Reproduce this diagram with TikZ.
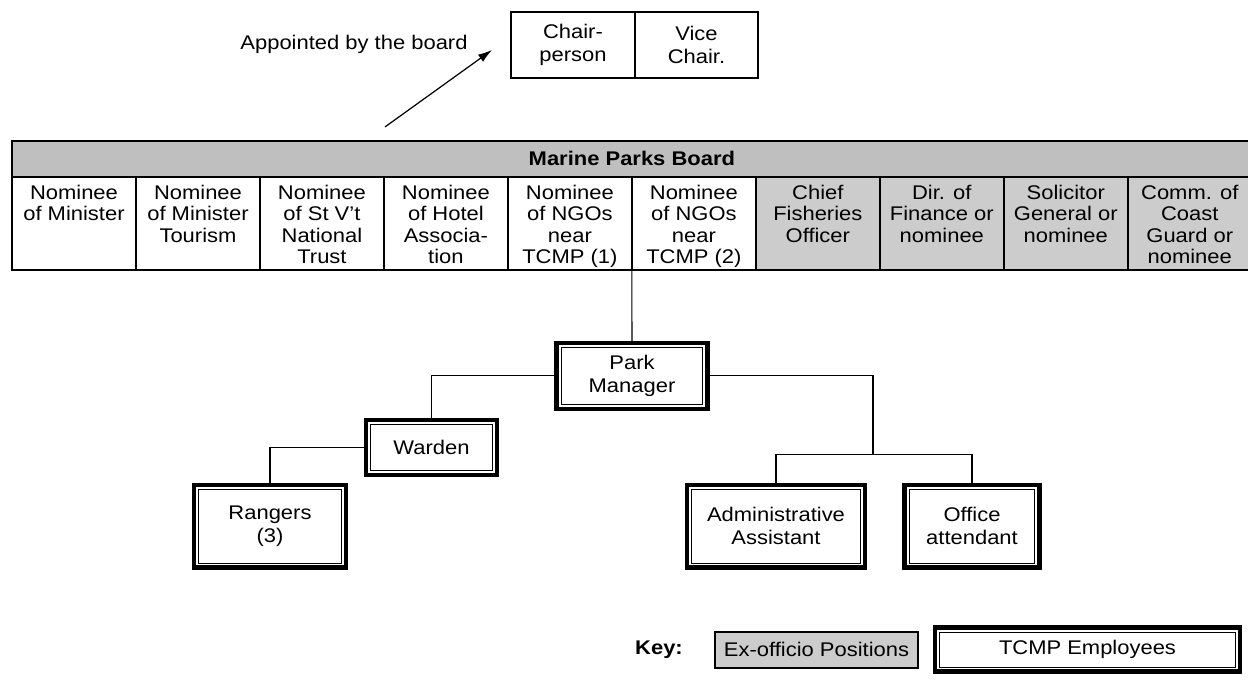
\documentclass[tikz,border=0pt]{standalone}
\usepackage{fontspec}
\setmainfont{Liberation Sans}
\usetikzlibrary{positioning,arrows.meta}
\newcommand{\orgfont}{\fontsize{12.5}{13.6}\selectfont}
\newcommand{\boxfont}{\fontsize{12.5}{14.6}\selectfont}

\begin{document}
\begin{tikzpicture}[
    x=0.02cm, y=-0.02222cm, yscale=0.9, transform shape,
    every node/.style={font=\orgfont},
    cell/.style={draw, line width=0.9pt, outer sep=0pt, inner sep=0pt, minimum width=2.48cm, minimum height=2.067cm},
    ex/.style={cell, fill=black!20},
    celltxt/.style={align=center, inner sep=0pt},
    emp/.style={draw, line width=2.6pt, fill=white, align=center, inner sep=2pt, font=\boxfont,
        path picture={\draw[line width=0.5pt] ([shift={(2.7pt,2.9pt)}]path picture bounding box.south west) rectangle ([shift={(-2.7pt,-2.9pt)}]path picture bounding box.north east);}},
    link/.style={line width=0.6pt},
    arrow/.style={-{Latex[length=8pt,width=5pt]}, line width=0.7pt}
]
    \useasboundingbox (0,0) rectangle (1248,700);

    % who appoints the chair
    \node (appt) at (354,44) {Appointed by the board};
    \coordinate (atail) at (385,127);
    \coordinate (ahead) at (492,50);
    \draw[arrow] (atail) -- (ahead);

    \node[cell, line width=0.7pt, minimum height=1.467cm, anchor=north west, align=center, font=\boxfont] (chair) at (511,12) {Chair-\\person};
    \node[cell, line width=0.7pt, minimum width=2.46cm, minimum height=1.467cm, right=0pt of chair, align=center, font=\boxfont] (vice) {Vice\\Chair.};

    % the board
    \node[cell, fill=black!25, minimum width=24.8cm, minimum height=0.8cm, anchor=north west, font=\orgfont\bfseries] (board) at (12,141) {Marine Parks Board};
    \node[cell, anchor=north west] (c1) at (12,177) {};
    \node[cell, right=0pt of c1] (c2) {};
    \node[cell, right=0pt of c2] (c3) {};
    \node[cell, right=0pt of c3] (c4) {};
    \node[cell, right=0pt of c4] (c5) {};
    \node[cell, right=0pt of c5] (c6) {};
    \node[ex, right=0pt of c6] (c7) {};
    \node[ex, right=0pt of c7] (c8) {};
    \node[ex, right=0pt of c8] (c9) {};
    \node[ex, right=0pt of c9] (c10) {};

    \node[celltxt, below=5pt of c1.north] (n1) {Nominee\\of Minister};
    \node[celltxt, below=5pt of c2.north] (n2) {Nominee\\of Minister\\Tourism};
    \node[celltxt, below=5pt of c3.north] (n3) {Nominee\\of St V't\\National\\Trust};
    \node[celltxt, below=5pt of c4.north] (n4) {Nominee\\of Hotel\\Associa-\\tion};
    \node[celltxt, below=5pt of c5.north] (n5) {Nominee\\of NGOs\\near\\TCMP (1)};
    \node[celltxt, below=5pt of c6.north] (n6) {Nominee\\of NGOs\\near\\TCMP (2)};
    \node[celltxt, below=5pt of c7.north] (n7) {Chief\\Fisheries\\Officer};
    \node[celltxt, below=5pt of c8.north] (n8) {Dir. of\\Finance or\\nominee};
    \node[celltxt, below=5pt of c9.north] (n9) {Solicitor\\General or\\nominee};
    \node[celltxt, below=5pt of c10.north] (n10) {Comm. of\\Coast\\Guard or\\nominee};

    % park staff
    \node[emp, minimum width=3.02cm, minimum height=1.467cm] (pm) at (632,376) {Park\\Manager};
    \node[emp, minimum width=2.62cm, minimum height=1.222cm] (warden) at (431.5,447.5) {Warden};
    \node[emp, minimum width=3.04cm, minimum height=1.844cm] (rangers) at (270,526.5) {Rangers\\(3)};
    \node[emp, minimum width=3.56cm, minimum height=1.844cm] (admin) at (776,526.5) {Administrative\\Assistant};
    \node[emp, minimum width=2.7cm, minimum height=1.844cm] (office) at (972,526.5) {Office\\attendant};
    \coordinate (split) at (873,455);

    \draw[link] (c5.south east) -- (pm.north);
    \draw[link] (pm.west) -| (warden.north);
    \draw[link] (warden.west) -| (rangers.north);
    \draw[link] (pm.east) -| (split);
    \draw[link] (admin.north) |- (split) -| (office.north);

    % key
    \node[font=\orgfont\bfseries] (key) at (659,650) {Key:};
    \node[ex, minimum width=4.06cm, minimum height=0.8cm] (kex) at (816.5,650) {Ex-officio Positions};
    \node[emp, minimum width=6.1cm, minimum height=0.978cm] (kemp) at (1087.5,650) {TCMP Employees};
\end{tikzpicture}
\end{document}
